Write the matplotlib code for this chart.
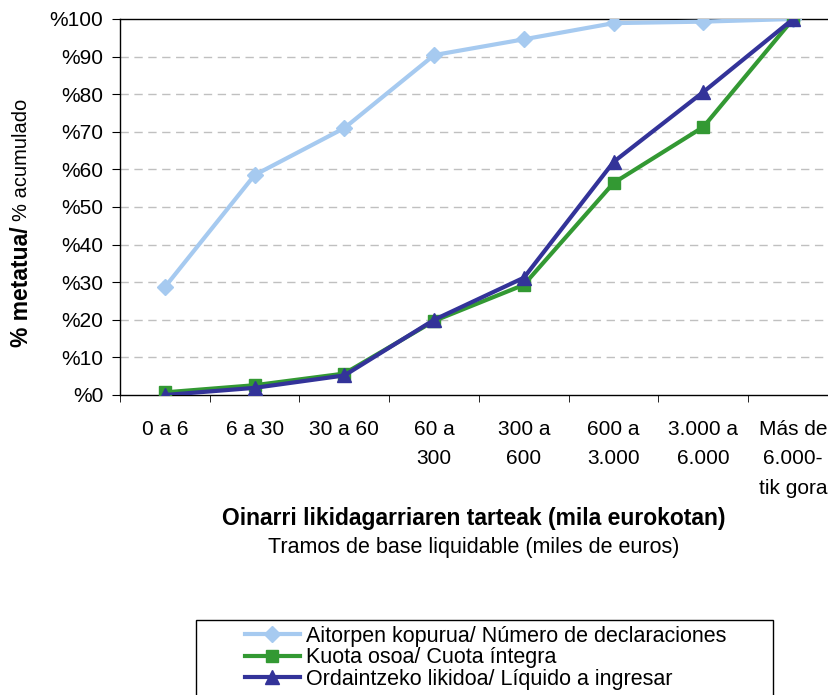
import matplotlib
matplotlib.use('Agg')
import matplotlib.pyplot as plt
from matplotlib.patches import Rectangle
import numpy as np

plt.rcParams['font.family'] = ['Liberation Sans', 'DejaVu Sans']

categories = ['0 a 6', '6 a 30', '30 a 60', '60 a\n300', '300 a\n600',
              '600 a\n3.000', '3.000 a\n6.000', 'Más de\n6.000-\ntik gora']
declaraciones = [28.7, 58.5, 71.0, 90.4, 94.6, 98.9, 99.3, 100.0]
cuota = [0.7, 2.6, 5.7, 19.7, 29.3, 56.4, 71.3, 100.0]
liquido = [0.0, 1.9, 5.2, 20.0, 31.2, 62.0, 80.6, 100.0]
yticks = [0, 10, 20, 30, 40, 50, 60, 70, 80, 90, 100]

W, H = 829, 695
fig = plt.figure(figsize=(W / 100, H / 100), dpi=100)
# plot area runs slightly past the right edge, like the original
ax = fig.add_axes([120 / W, 1 - 395 / H, 718 / W, 376 / H])

x = np.arange(len(categories))
ax.plot(x, declaraciones, color='#a6caf0', lw=3, marker='D', ms=8,
        label='Aitorpen kopurua/ Número de declaraciones', zorder=3)
ax.plot(x, cuota, color='#339933', lw=3, marker='s', ms=8,
        label='Kuota osoa/ Cuota íntegra', zorder=4)
ax.plot(x, liquido, color='#333399', lw=3, marker='^', ms=10,
        label='Ordaintzeko likidoa/ Líquido a ingresar', zorder=5)

ax.set_xlim(-0.5, len(categories) - 0.5)
ax.set_ylim(0, 100)
ax.set_yticks(yticks)
ax.set_yticklabels(['%%%d' % v for v in yticks], fontsize=15)
ax.set_xticks(x)
ax.set_xticklabels(categories, fontsize=15, linespacing=1.7, va='top')
ax.set_xticks(np.arange(len(categories) + 1) - 0.5, minor=True)
ax.tick_params(axis='x', which='major', length=0, pad=18)
ax.tick_params(axis='x', which='minor', length=5, direction='out')
ax.tick_params(axis='y', length=6, direction='out', pad=6)

for v in yticks[1:-1]:
    ax.axhline(v, color='#c0c0c0', lw=1, ls=(0, (6, 4)), zorder=1)
ax.spines['right'].set_visible(False)
for s in ['top', 'left', 'bottom']:
    ax.spines[s].set_linewidth(1.0)

fig.text(474 / W, 1 - 518 / H, 'Oinarri likidagarriaren tarteak (mila eurokotan)',
         ha='center', va='center', fontsize=16.5, fontweight='bold')
fig.text(474 / W, 1 - 548 / H, 'Tramos de base liquidable (miles de euros)',
         ha='center', va='center', fontsize=15.5)

# y label: bold part then normal part, stacked along the left edge
renderer = fig.canvas.get_renderer()
t1 = fig.text(22 / W, 1 - 347 / H, '% metatua/', rotation=90, ha='center', va='bottom',
              fontsize=16.5, fontweight='bold')
top = t1.get_window_extent(renderer).y1
fig.text(22 / W, (top + 5) / H, '% acumulado', rotation=90, ha='center', va='bottom',
         fontsize=14.5)

# legend box drawn by hand, its bottom runs off the figure
fig.patches.append(Rectangle((196 / W, -0.05), (773 - 196) / W, 0.05 + (H - 620) / H,
                             transform=fig.transFigure, fill=False,
                             edgecolor='black', lw=1.0))
leg = fig.legend(loc='upper left', bbox_to_anchor=(245 / W, 1 - 626 / H),
                 fontsize=15.5, frameon=False, borderpad=0, labelspacing=0.02,
                 handlelength=2.55, handletextpad=0.3, borderaxespad=0)

plt.savefig('out.png', dpi=100)
